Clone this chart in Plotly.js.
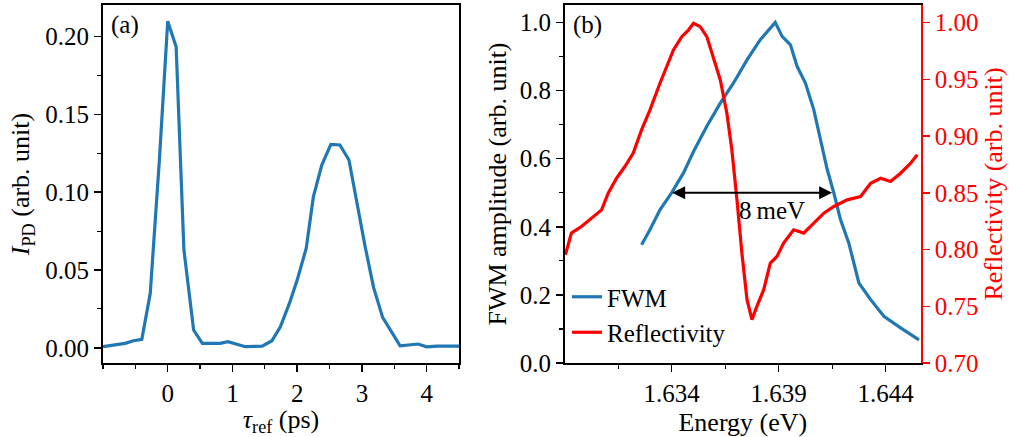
<!DOCTYPE html>
<html>
<head>
<meta charset="utf-8">
<script src="https://cdn.plot.ly/plotly-3.0.1.min.js"></script>
<style>html,body{margin:0;padding:0;background:#fff;}#chart{width:1016px;height:437px;}</style>
</head>
<body>
<div id="chart"></div>
<script>
// Panel (a): photodiode signal vs reference delay
const tauRef = [-1.0, -0.66, -0.53, -0.40, -0.27, -0.13, 0.0, 0.13, 0.25, 0.40, 0.535, 0.81, 0.93, 1.20, 1.46, 1.61, 1.74, 1.88, 2.00, 2.14, 2.25, 2.38, 2.52, 2.66, 2.80, 2.94, 3.05, 3.18, 3.32, 3.59, 3.87, 4.00, 4.16, 4.5];
const iPD    = [0.0007, 0.0028, 0.0045, 0.0054, 0.035, 0.12, 0.21, 0.1936, 0.063, 0.0114, 0.0028, 0.0028, 0.0039, 0.0007, 0.001, 0.0045, 0.0135, 0.0285, 0.0435, 0.064, 0.097, 0.1175, 0.1308, 0.1304, 0.1207, 0.0886, 0.065, 0.0388, 0.0195, 0.0013, 0.0024, 0.0006, 0.001, 0.001];

// Panel (b): FWM amplitude vs energy
const fwmEnergy = [1.63259, 1.63298, 1.63345, 1.63400, 1.63455, 1.63502, 1.63564, 1.63627, 1.63689, 1.63752, 1.63814, 1.63861, 1.63884, 1.63916, 1.63955, 1.63986, 1.64025, 1.64064, 1.64095, 1.64127, 1.64158, 1.64189, 1.64228, 1.64275, 1.64330, 1.64392, 1.64470, 1.64556];
const fwmAmp    = [0.347, 0.391, 0.450, 0.500, 0.558, 0.621, 0.695, 0.763, 0.822, 0.890, 0.949, 0.983, 1.000, 0.959, 0.934, 0.871, 0.822, 0.744, 0.656, 0.568, 0.499, 0.421, 0.352, 0.235, 0.186, 0.137, 0.103, 0.068];

// Panel (b): reflectivity vs energy
const refEnergy = [1.62903, 1.62931, 1.62978, 1.63025, 1.63072, 1.63103, 1.63142, 1.63181, 1.63220, 1.63259, 1.63298, 1.63345, 1.63377, 1.63408, 1.63447, 1.63478, 1.63502, 1.63533, 1.63564, 1.63595, 1.63627, 1.63658, 1.63681, 1.63705, 1.63728, 1.63752, 1.63775, 1.63798, 1.63830, 1.63861, 1.63892, 1.63923, 1.63970, 1.64017, 1.64064, 1.64111, 1.64158, 1.64220, 1.64283, 1.64330, 1.64377, 1.64423, 1.64470, 1.64517, 1.64548];
const refl      = [0.7954, 0.8145, 0.8203, 0.8277, 0.8350, 0.8497, 0.8629, 0.8732, 0.8850, 0.9055, 0.9230, 0.9466, 0.9612, 0.9760, 0.9877, 0.9935, 0.9994, 0.9965, 0.9877, 0.9700, 0.9495, 0.9200, 0.8880, 0.8438, 0.7969, 0.7558, 0.7382, 0.7499, 0.7646, 0.7880, 0.7939, 0.8057, 0.8174, 0.8145, 0.8233, 0.8321, 0.8380, 0.8438, 0.8468, 0.8585, 0.8629, 0.8600, 0.8673, 0.8761, 0.8835];

// FWHM arrow endpoints and label
const fwhmEnds = [1.63395, 1.6415];
const fwhmLevel = 0.5;
const fwhmLabel = '8\u2009meV';

const FONT = 'Liberation Serif, Times New Roman, serif';
const FS = 25;      // tick labels, legend, labels
const FT = 26;      // axis titles
const W = 1016, H = 437;
const BLUE = '#1f77b4', RED = '#ff0000';

const traces = [
  {x: tauRef, y: iPD, type: 'scatter', mode: 'lines', line: {color: BLUE, width: 3.2}, xaxis: 'x', yaxis: 'y', showlegend: false},
  {x: fwmEnergy, y: fwmAmp, type: 'scatter', mode: 'lines', name: 'FWM', line: {color: BLUE, width: 3.2}, xaxis: 'x2', yaxis: 'y2'},
  {x: refEnergy, y: refl, type: 'scatter', mode: 'lines', name: 'Reflectivity', line: {color: RED, width: 3.2}, xaxis: 'x2', yaxis: 'y3'}
];

const tickCommon = {
  ticks: 'outside', ticklen: 7, tickwidth: 1.5, tickcolor: '#000',
  showline: true, linecolor: '#000', linewidth: 2,
  showgrid: false, zeroline: false,
  tickfont: {family: FONT, size: FS, color: '#000'}
};
const minorCommon = {ticks: 'outside', ticklen: 4, tickwidth: 1.2, tickcolor: '#000', showgrid: false};

const yTop = 1 - 5 / H, yBot = 1 - 363 / H;

const layout = {
  width: W, height: H,
  margin: {l: 0, r: 0, t: 0, b: 0},
  paper_bgcolor: '#fff', plot_bgcolor: '#fff',
  font: {family: FONT, size: FS, color: '#000'},
  showlegend: true,
  legend: {x: 567 / W, y: 1 - 274 / H, xanchor: 'left', yanchor: 'top', bgcolor: 'rgba(0,0,0,0)', font: {family: FONT, size: FS}, tracegroupgap: 0},
  xaxis: Object.assign({}, tickCommon, {
    domain: [103 / W, 459 / W], range: [-1, 4.5], anchor: 'y', mirror: true,
    tickvals: [0, 1, 2, 3, 4], ticktext: ['0', '1', '2', '3', '4'],
    minor: Object.assign({}, minorCommon, {dtick: 0.5, tick0: 0}),
    title: {text: '<i>τ</i><sub>ref</sub> (ps)', font: {family: FONT, size: FT}, standoff: 8}
  }),
  yaxis: Object.assign({}, tickCommon, {
    domain: [yBot, yTop], range: [-0.0098, 0.2204], anchor: 'x', mirror: true,
    tickvals: [0, 0.05, 0.10, 0.15, 0.20], ticktext: ['0.00', '0.05', '0.10', '0.15', '0.20'],
    minor: Object.assign({}, minorCommon, {dtick: 0.025, tick0: 0}),
    title: {text: '<i>I</i><sub>PD</sub> (arb. unit)', font: {family: FONT, size: FT}, standoff: 8}
  }),
  xaxis2: Object.assign({}, tickCommon, {
    domain: [565 / W, 920.7 / W], range: [1.62901, 1.64564], anchor: 'y2', mirror: true,
    tickvals: [1.634, 1.639, 1.644], ticktext: ['1.634', '1.639', '1.644'],
    minor: Object.assign({}, minorCommon, {dtick: 0.0025, tick0: 1.634}),
    title: {text: 'Energy (eV)', font: {family: FONT, size: FT}, standoff: 8}
  }),
  yaxis2: Object.assign({}, tickCommon, {
    domain: [yBot, yTop], range: [0, 1.051], anchor: 'x2', mirror: false,
    tickvals: [0, 0.2, 0.4, 0.6, 0.8, 1.0], ticktext: ['0.0', '0.2', '0.4', '0.6', '0.8', '1.0'],
    minor: Object.assign({}, minorCommon, {dtick: 0.1, tick0: 0}),
    title: {text: 'FWM amplitude (arb. unit)', font: {family: FONT, size: FT}, standoff: 6}
  }),
  yaxis3: Object.assign({}, tickCommon, {
    overlaying: 'y2', side: 'right', anchor: 'x2',
    range: [0.70, 1.0156], linecolor: RED, tickcolor: RED,
    tickvals: [0.70, 0.75, 0.80, 0.85, 0.90, 0.95, 1.00], ticktext: ['0.70', '0.75', '0.80', '0.85', '0.90', '0.95', '1.00'],
    tickfont: {family: FONT, size: FS, color: RED},
    title: {text: 'Reflectivity (arb. unit)', font: {family: FONT, size: FT, color: RED}, standoff: 6}
  }),
  annotations: [
    {xref: 'paper', yref: 'paper', x: 109 / W, y: 1 - 25 / H, xanchor: 'left', yanchor: 'middle', text: '(a)', showarrow: false, font: {family: FONT, size: FS}},
    {xref: 'paper', yref: 'paper', x: 571 / W, y: 1 - 25 / H, xanchor: 'left', yanchor: 'middle', text: '(b)', showarrow: false, font: {family: FONT, size: FS}},
    {xref: 'x2', yref: 'y2', x: fwhmEnds[1], y: fwhmLevel, axref: 'x2', ayref: 'y2', ax: fwhmEnds[0], ay: fwhmLevel,
     text: '', showarrow: true, arrowhead: 2, startarrowhead: 2, arrowside: 'end+start', arrowsize: 1.3, startarrowsize: 1.3, arrowwidth: 2, arrowcolor: '#000'},
    {xref: 'x2', yref: 'y2', x: (fwhmEnds[0] + fwhmEnds[1]) / 2 + 0.00097, y: 0.448, text: fwhmLabel, showarrow: false, xanchor: 'center', yanchor: 'middle', font: {family: FONT, size: FS}}
  ]
};

Plotly.newPlot('chart', traces, layout, {staticPlot: true, displayModeBar: false});
</script>
</body>
</html>
